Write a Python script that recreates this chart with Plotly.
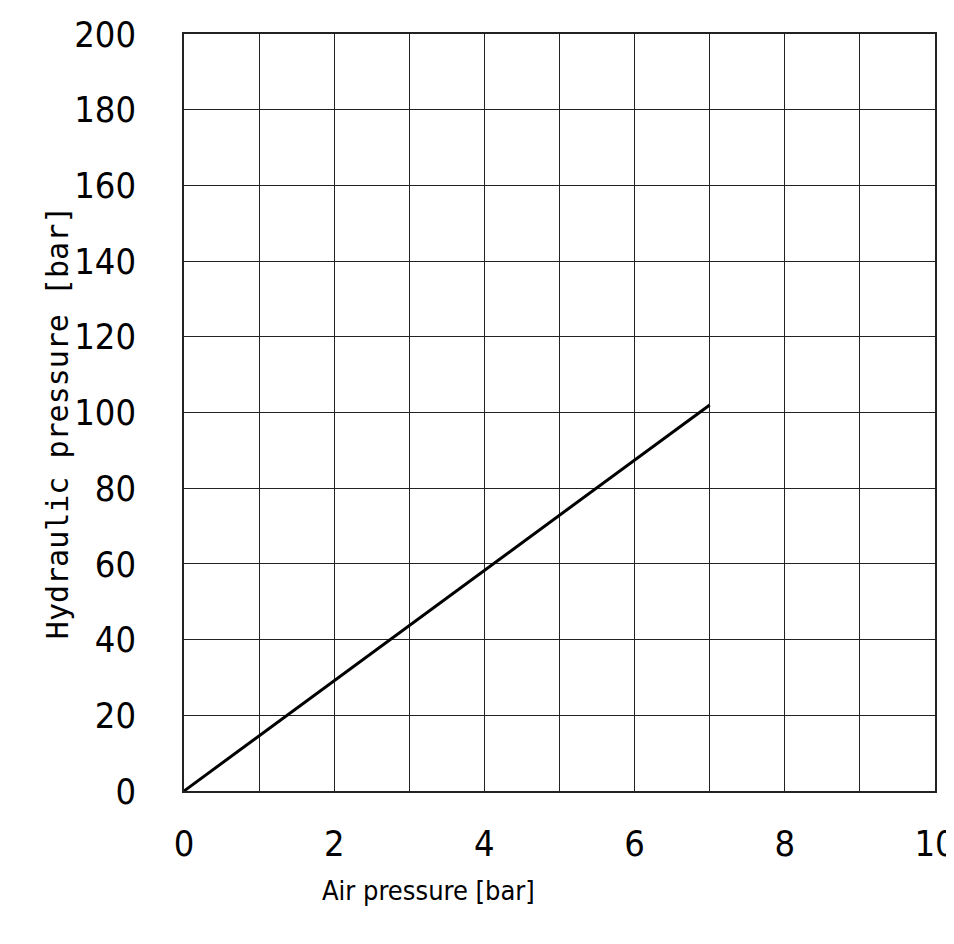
import plotly.graph_objects as go

air_pressure = [0, 7]
hydraulic_pressure = [0, 102]
x_ticks = [0, 2, 4, 6, 8, 10]
y_ticks = [0, 20, 40, 60, 80, 100, 120, 140, 160, 180, 200]
x_title = "Air pressure [bar]"
y_title = "Hydraulic pressure [bar]"

FONT = "DejaVu Sans Condensed, DejaVu Sans"
MONO = "DejaVu Sans Mono"

fig = go.Figure()
fig.add_trace(go.Scatter(x=air_pressure, y=hydraulic_pressure, mode="lines",
                         line=dict(color="black", width=3), showlegend=False, hoverinfo="skip"))

fig.update_layout(
    width=954, height=944,
    margin=dict(l=176, r=6, t=20, b=161),
    plot_bgcolor="white", paper_bgcolor="white",
    font=dict(family=FONT, color="black"),
)
fig.update_xaxes(
    range=[0, 10], tickvals=x_ticks, ticktext=[str(v) for v in x_ticks],
    showgrid=True, gridcolor="#222", gridwidth=1,
    minor=dict(dtick=1, showgrid=True, gridcolor="#222", gridwidth=1),
    showline=True, linecolor="#222", linewidth=1.5, mirror=True,
    zeroline=False, ticks="", tickfont=dict(size=36, family=FONT),
    ticklabelstandoff=20, ticklabeloverflow="allow",
)
fig.update_yaxes(
    range=[0, 200], tickvals=y_ticks, ticktext=[str(v) for v in y_ticks],
    showgrid=True, gridcolor="#222", gridwidth=1,
    showline=True, linecolor="#222", linewidth=1.5, mirror=True,
    zeroline=False, ticks="", tickfont=dict(size=36, family=FONT),
    ticklabelstandoff=39, ticklabeloverflow="allow",
)
fig.add_annotation(text=x_title, xref="paper", yref="paper", x=0.326, y=-0.131,
                   showarrow=False, font=dict(size=27, family=FONT, color="black"),
                   xanchor="center", yanchor="middle")
fig.add_annotation(text=y_title, xref="paper", yref="paper", x=-0.168, y=0.487,
                   showarrow=False, textangle=-90, font=dict(size=30, family=MONO, color="black"),
                   xanchor="center", yanchor="middle")

fig.write_html("out.html")
